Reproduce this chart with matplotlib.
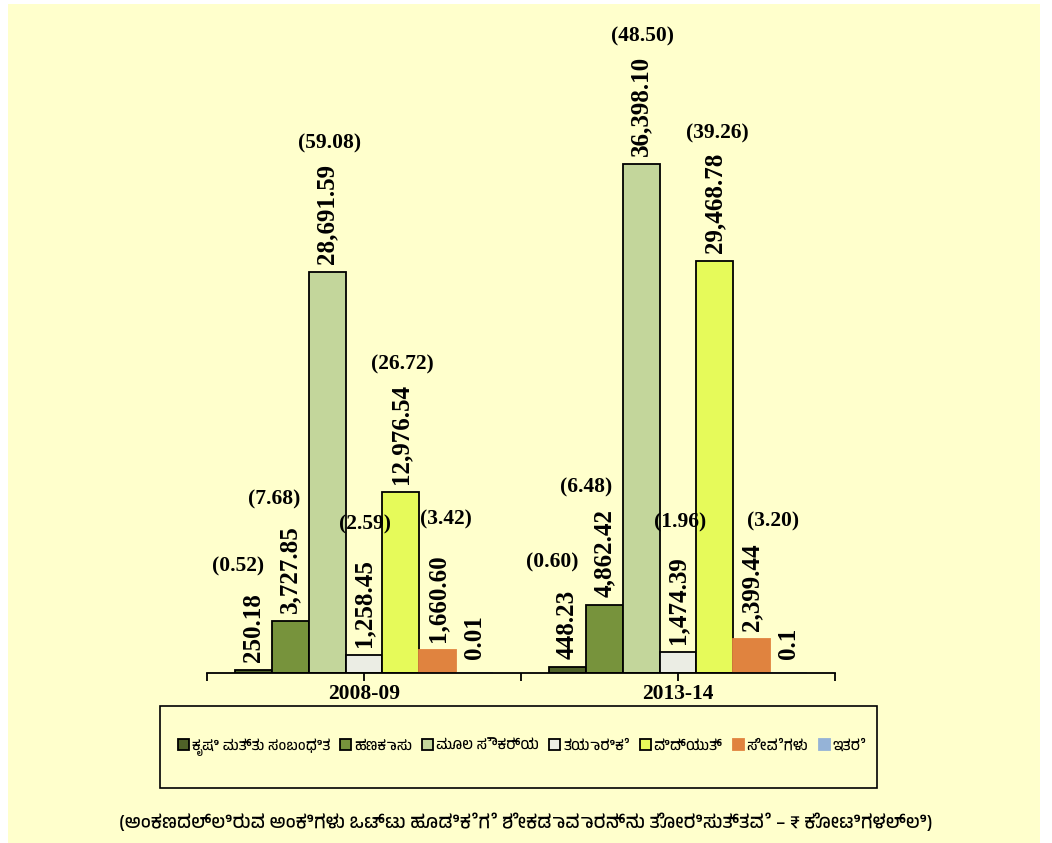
import matplotlib
matplotlib.use("Agg")
from matplotlib import pyplot as plt
from matplotlib import font_manager
from matplotlib.ft2font import FT2Font
from matplotlib.patches import Rectangle

# data
years = ["2008-09", "2013-14"]
sectors = ["ಕೃಷಿ ಮತ್ತು ಸಂಬಂಧಿತ", "ಹಣಕಾಸು", "ಮೂಲ ಸೌಕರ್ಯ", "ತಯಾರಿಕೆ",
           "ವಿದ್ಯುತ್", "ಸೇವೆಗಳು", "ಇತರೆ"]
vals_0809 = [250.18, 3727.85, 28691.59, 1258.45, 12976.54, 1660.60, 0.01]
vals_1314 = [448.23, 4862.42, 36398.10, 1474.39, 29468.78, 2399.44, 0.1]
txt_0809 = ["250.18", "3,727.85", "28,691.59", "1,258.45", "12,976.54", "1,660.60", "0.01"]
txt_1314 = ["448.23", "4,862.42", "36,398.10", "1,474.39", "29,468.78", "2,399.44", "0.1"]
pct_0809 = ["(0.52)", "(7.68)", "(59.08)", "(2.59)", "(26.72)", "(3.42)", ""]
pct_1314 = ["(0.60)", "(6.48)", "(48.50)", "(1.96)", "(39.26)", "(3.20)", ""]
note = "(ಅಂಕಣದಲ್ಲಿರುವ ಅಂಕಿಗಳು ಒಟ್ಟು ಹೂಡಿಕೆಗೆ ಶೇಕಡಾವಾರನ್ನು ತೋರಿಸುತ್ತವೆ – ₹ ಕೋಟಿಗಳಲ್ಲಿ)"

colors = ["#4f6228", "#77933c", "#c3d69b", "#ebede4", "#e6fa5a", "#e0833f", "#95b3d7"]
edges = ["black", "black", "black", "black", "black", "#e0833f", "#95b3d7"]
# hand placed percent labels (pixels from top of the value label)
pct_off = [[(-15, 26), (-16, 26), (3, 20), (1, 35), (1, 19), (8, 35), (0, 0)],
           [(-15, 27), (-18, 22), (1, 19), (2, 34), (2, 19), (21, 22), (0, 0)]]


def find_kannada():
    for f in font_manager.fontManager.ttflist:
        if "kannada" in f.name.lower():
            return f.name
    for f in font_manager.fontManager.ttflist:
        try:
            if 0x0C95 in FT2Font(f.fname).get_charmap():
                return f.name
        except Exception:
            pass
    return None


kn = find_kannada()
kn_family = [kn, "DejaVu Sans"] if kn else ["DejaVu Sans"]
serif = "Liberation Serif"

fig = plt.figure(figsize=(10.52, 8.43), dpi=100, facecolor="white")
fig.patches.append(Rectangle((8 / 1052, 0), 1032 / 1052, 839 / 843, transform=fig.transFigure,
                             facecolor="#ffffcc", edgecolor="none", zorder=-10))

ax = fig.add_axes([207 / 1052, 170 / 843, 628 / 1052, 653 / 843])
ax.set_facecolor("none")

w = 0.1178
allvals = [vals_0809, vals_1314]
alltxt = [txt_0809, txt_1314]
allpct = [pct_0809, pct_1314]
handles = []
for i in range(len(sectors)):
    xs = [g + (i - 3) * w for g in range(len(years))]
    hs = [allvals[g][i] for g in range(len(years))]
    b = ax.bar(xs, hs, width=w, color=colors[i], edgecolor=edges[i], linewidth=1.3,
               label=sectors[i])
    handles.append(b)
    for g in range(len(years)):
        gap = 8 if hs[g] > 1 else 14
        t = ax.annotate(alltxt[g][i], xy=(xs[g], hs[g]), xytext=(0, gap),
                        textcoords="offset pixels", rotation=90, ha="center", va="bottom",
                        fontsize=18, fontweight="bold", family=serif)
        if allpct[g][i]:
            dx, dy = pct_off[g][i]
            ax.annotate(allpct[g][i], xy=(0.5, 1), xycoords=t, xytext=(dx, dy),
                        textcoords="offset pixels", ha="center", va="center",
                        fontsize=15.5, fontweight="bold", family=serif)

ax.set_xlim(-0.5, 1.5)
ax.set_ylim(0, 46700)
ax.set_yticks([])
for s in ["left", "right", "top"]:
    ax.spines[s].set_visible(False)
ax.spines["bottom"].set_linewidth(1.3)
ax.set_xticks([-0.5, 0, 0.5, 1, 1.5])
ax.set_xticklabels(["", years[0], "", years[1], ""], fontsize=15.5, fontweight="bold",
                   family=serif)
ax.tick_params(axis="x", length=6, width=1.3, pad=2)

# legend box
fig.patches.append(Rectangle((160 / 1052, 1 - 788 / 843), 717 / 1052, 82 / 843,
                             transform=fig.transFigure, facecolor="none",
                             edgecolor="black", linewidth=1.2))
fig.legend(handles=handles, labels=sectors, loc="center", bbox_to_anchor=(522 / 1052, 1 - 747 / 843),
           ncol=7, frameon=False, handlelength=0.75, handleheight=0.75, handletextpad=0.2,
           columnspacing=0.7, prop={"family": kn_family, "size": 10.5, "weight": "bold"})

fig.text(526 / 1052, 1 - 822 / 843, note, ha="center", va="center", fontsize=13.5,
         fontweight="bold", family=kn_family)

fig.savefig("out.png", dpi=100, facecolor=fig.get_facecolor())
